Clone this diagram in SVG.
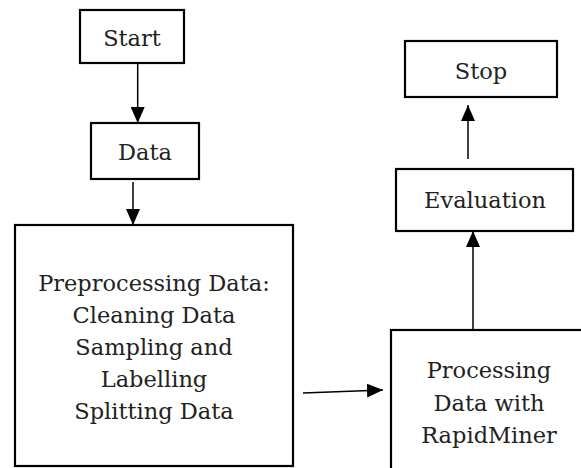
<svg xmlns="http://www.w3.org/2000/svg" width="581" height="468" viewBox="0 0 581 468">
<defs>
<marker id="ah" viewBox="0 0 16 14" refX="16" refY="7" markerWidth="16" markerHeight="14" markerUnits="userSpaceOnUse" orient="auto">
<path d="M0,0 L16,7 L0,14 Z" fill="#000"/>
</marker>
<style>
.box{fill:#fff;stroke:#000;stroke-width:2.2}
.t{font-family:"DejaVu Serif","Liberation Serif",serif;font-size:22.5px;fill:#222;text-anchor:middle}
.c{stroke:#000;stroke-width:1.5;fill:none}
</style>
</defs>
<rect width="581" height="468" fill="#fff"/>
<g id="start"><rect class="box" x="80" y="10" width="104" height="53"/><text class="t" x="132" y="46">Start</text></g>
<g id="data"><rect class="box" x="91" y="123" width="108" height="56"/><text class="t" x="145" y="160">Data</text></g>
<g id="preprocessing"><rect class="box" x="15" y="225" width="278" height="241"/>
<text class="t" x="154" y="291">Preprocessing Data:</text>
<text class="t" x="154" y="323">Cleaning Data</text>
<text class="t" x="154" y="355">Sampling and</text>
<text class="t" x="154" y="387">Labelling</text>
<text class="t" x="154" y="419">Splitting Data</text></g>
<g id="processing"><rect class="box" x="391" y="330" width="220" height="160"/>
<text class="t" x="489" y="378">Processing</text>
<text class="t" x="489" y="411">Data with</text>
<text class="t" x="489" y="443">RapidMiner</text></g>
<g id="evaluation"><rect class="box" x="396" y="169" width="177" height="62"/><text class="t" x="485" y="208">Evaluation</text></g>
<g id="stop"><rect class="box" x="405" y="41" width="152" height="56"/><text class="t" x="481" y="79">Stop</text></g>
<g id="connectors">
<line class="c" x1="137.7" y1="64" x2="137.7" y2="123" marker-end="url(#ah)"/>
<line class="c" x1="133" y1="182" x2="133" y2="225" marker-end="url(#ah)"/>
<line class="c" x1="303" y1="393" x2="383" y2="390" marker-end="url(#ah)"/>
<line class="c" x1="473" y1="329" x2="473" y2="231" marker-end="url(#ah)"/>
<line class="c" x1="468" y1="159" x2="468" y2="105" marker-end="url(#ah)"/>
</g>
</svg>
